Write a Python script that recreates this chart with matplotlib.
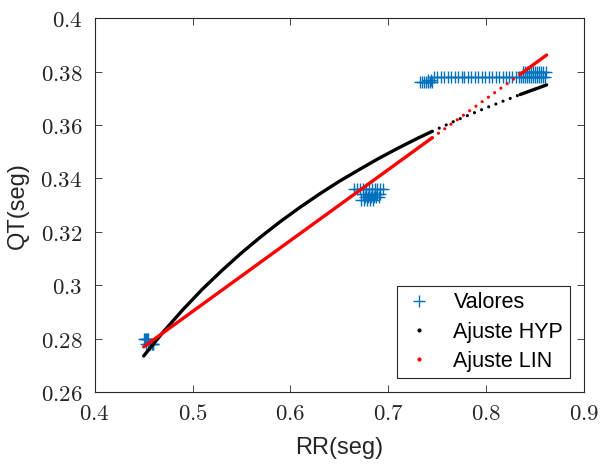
import numpy as np
import matplotlib
matplotlib.use("Agg")
import matplotlib.pyplot as plt
from matplotlib.lines import Line2D

plt.rcParams['font.family'] = ['Liberation Sans', 'DejaVu Sans']
plt.rcParams['mathtext.fontset'] = 'cm'

# medidas (RR, QT) en segundos
rr_a = [0.450, 0.451, 0.452, 0.453, 0.454, 0.452, 0.454, 0.456, 0.458, 0.459, 0.460]
qt_a = [0.280, 0.280, 0.280, 0.280, 0.280, 0.278, 0.278, 0.278, 0.278, 0.278, 0.278]

rr_b = [0.665, 0.668, 0.671, 0.674, 0.677, 0.680, 0.683, 0.686, 0.689, 0.692, 0.695,
        0.674, 0.677, 0.680, 0.683, 0.686, 0.689, 0.692,
        0.676, 0.679, 0.682, 0.685, 0.688, 0.691,
        0.672, 0.675, 0.678, 0.681, 0.684]
qt_b = [0.336, 0.336, 0.336, 0.336, 0.336, 0.336, 0.336, 0.336, 0.336, 0.336, 0.336,
        0.334, 0.334, 0.334, 0.334, 0.334, 0.334, 0.334,
        0.333, 0.333, 0.333, 0.333, 0.333, 0.333,
        0.332, 0.332, 0.332, 0.332, 0.332]

rr_c = [0.733, 0.735, 0.737, 0.739, 0.741, 0.743, 0.745, 0.741, 0.744, 0.747,
        0.750, 0.754, 0.757, 0.761, 0.764, 0.768, 0.771, 0.775, 0.778, 0.782,
        0.785, 0.789, 0.792, 0.796, 0.799, 0.803, 0.806, 0.810, 0.813, 0.817,
        0.820, 0.824, 0.827, 0.831, 0.834,
        0.836, 0.838, 0.840, 0.842, 0.844, 0.846, 0.848, 0.850, 0.852, 0.854,
        0.856, 0.858, 0.860,
        0.838, 0.840, 0.842, 0.844, 0.846, 0.848, 0.850, 0.852, 0.854, 0.856,
        0.858, 0.861]
qt_c = [0.376, 0.376, 0.376, 0.376, 0.376, 0.376, 0.376, 0.377, 0.377, 0.378,
        0.378, 0.378, 0.378, 0.378, 0.378, 0.378, 0.378, 0.378, 0.378, 0.378,
        0.378, 0.378, 0.378, 0.378, 0.378, 0.378, 0.378, 0.378, 0.378, 0.378,
        0.378, 0.378, 0.378, 0.378, 0.378,
        0.378, 0.378, 0.378, 0.378, 0.378, 0.378, 0.378, 0.378, 0.378, 0.378,
        0.378, 0.378, 0.378,
        0.380, 0.380, 0.380, 0.380, 0.380, 0.380, 0.380, 0.380, 0.380, 0.380,
        0.380, 0.380]

# curvas de ajuste
rr_hyp = [0.450, 0.470, 0.490, 0.510, 0.530, 0.550, 0.570, 0.590, 0.610, 0.630,
          0.650, 0.670, 0.690, 0.710, 0.730, 0.745, 0.770, 0.800, 0.835, 0.850, 0.862]
qt_hyp = [0.2735, 0.2825, 0.2908, 0.2985, 0.3055, 0.3121, 0.3182, 0.3239, 0.3292, 0.3342,
          0.3389, 0.3432, 0.3474, 0.3513, 0.3550, 0.3576, 0.3618, 0.3664, 0.3714, 0.3734, 0.3750]
rr_lin = [0.450, 0.745, 0.835, 0.862]
qt_lin = [0.2769, 0.3552, 0.3790, 0.3862]

azul = '#0072BD'
rr = np.array(rr_a + rr_b + rr_c)
qt = np.array(qt_a + qt_b + qt_c)

fig = plt.figure(figsize=(6, 4.65), dpi=100)
ax = fig.add_axes([0.158, 0.157, 0.815, 0.804])

ax.plot(rr, qt, '+', color=azul, markersize=8, markeredgewidth=1.0, zorder=2)


def curva(x, y, color):
    x = np.array(x)
    y = np.array(y)
    m1 = x <= 0.745
    m2 = (x >= 0.745) & (x <= 0.835)
    m3 = x >= 0.835
    ax.plot(x[m1], y[m1], '-', color=color, lw=2.4, solid_capstyle='round',
            solid_joinstyle='round', zorder=3)
    ax.plot(x[m2], y[m2], color=color, lw=2.3, linestyle=(0, (0.01, 2.4)),
            dash_capstyle='round', zorder=3)
    ax.plot(x[m3], y[m3], '-', color=color, lw=2.4, solid_capstyle='round', zorder=3)


curva(rr_hyp, qt_hyp, 'black')
curva(rr_lin, qt_lin, 'red')

ax.set_xlim(0.4, 0.9)
ax.set_ylim(0.26, 0.4)
xt = [0.4, 0.5, 0.6, 0.7, 0.8, 0.9]
yt = [0.26, 0.28, 0.3, 0.32, 0.34, 0.36, 0.38, 0.4]
ax.set_xticks(xt)
ax.set_xticklabels(['$%g$' % v for v in xt])
ax.set_yticks(yt)
ax.set_yticklabels(['$%g$' % v for v in yt])
ax.tick_params(direction='in', top=True, right=True, length=5, width=0.6,
               color='#262626', labelsize=16.5, labelcolor='#262626')
ax.tick_params(axis='x', pad=7)
ax.tick_params(axis='y', pad=9)
for s in ax.spines.values():
    s.set_color('#262626')
    s.set_linewidth(0.8)

ax.set_xlabel('RR(seg)', fontsize=17, color='#262626', labelpad=9)
ax.set_ylabel('QT(seg)', fontsize=17, color='#262626', labelpad=8)

handles = [Line2D([], [], ls='none', marker='+', color=azul, markersize=8),
           Line2D([], [], ls='none', marker='.', color='black', markersize=4),
           Line2D([], [], ls='none', marker='.', color='red', markersize=4)]
leg = ax.legend(handles, ['Valores', 'Ajuste HYP', 'Ajuste LIN'], loc='lower right',
                bbox_to_anchor=(0.971, 0.037), borderaxespad=0, fontsize=15.5,
                frameon=True, fancybox=False, edgecolor='#262626', framealpha=1,
                handlelength=1.4, borderpad=0.3, labelspacing=0.38, handletextpad=0.9)
leg.get_frame().set_linewidth(0.8)

fig.savefig('out.png', dpi=100)
